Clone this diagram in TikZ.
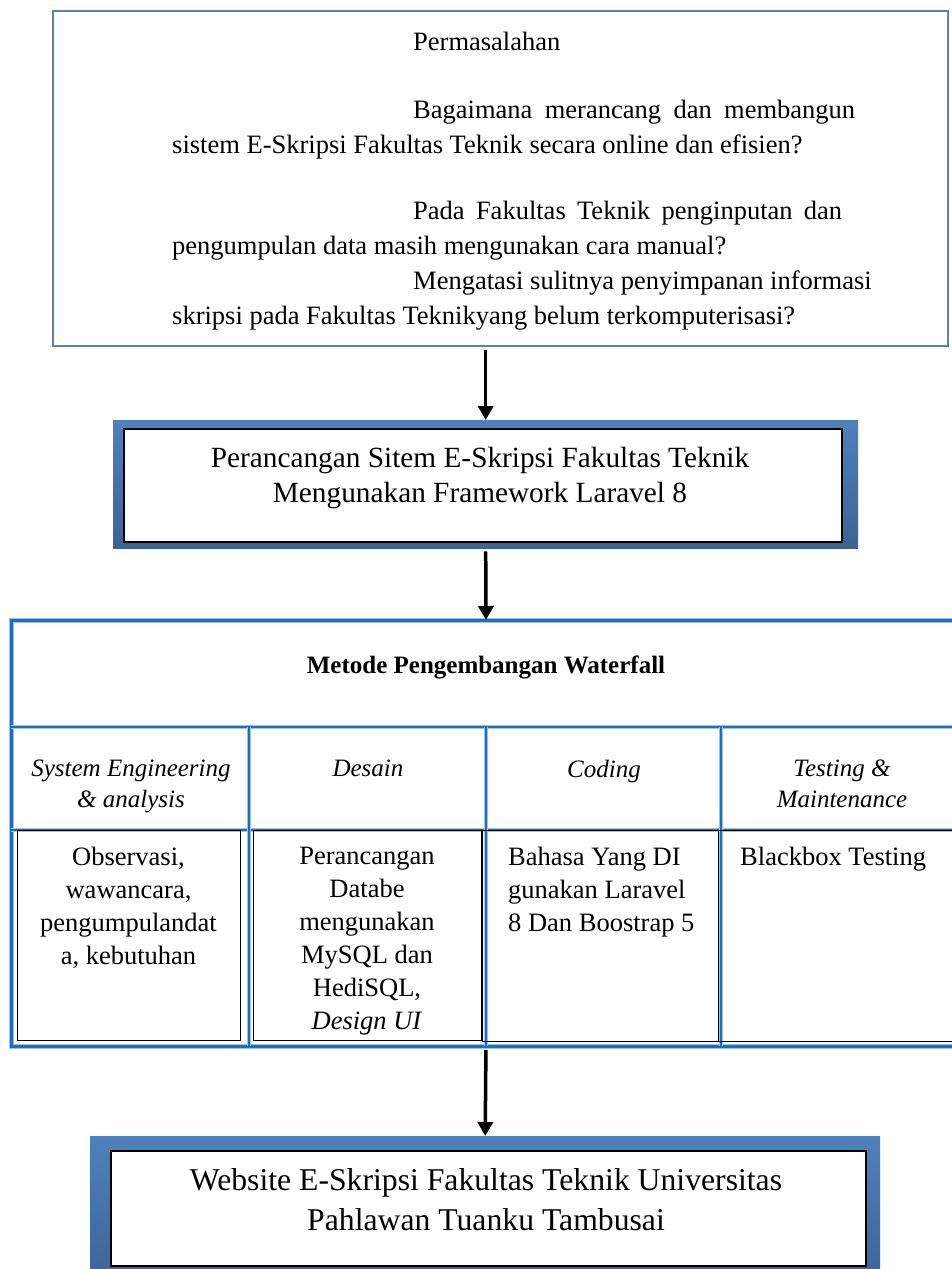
\documentclass[tikz,border=0pt]{standalone}
\usepackage{fontspec}
\setmainfont{Liberation Serif}
\usetikzlibrary{arrows.meta,calc}
\definecolor{PBlue}{HTML}{5B7FB6}
\definecolor{FBlue}{HTML}{4F81BD}
\definecolor{FBlueD}{HTML}{3C6396}
\definecolor{TBlue}{HTML}{1F6DC2}
\definecolor{LBlue}{HTML}{9DC3E6}

\begin{document}
\begin{tikzpicture}[x=1pt, y=-1pt,
    body/.style={font=\fontsize{26.5}{33}\selectfont, inner sep=0pt},
    title/.style={inner sep=0pt, anchor=north, align=center},
    colhead/.style={font=\fontsize{25}{31}\selectfont\itshape, inner sep=0pt, anchor=north, align=center},
    blueframe/.style={anchor=north west, top color=FBlue, bottom color=FBlueD, inner sep=0pt},
    inbox/.style={anchor=north west, draw=black, line width=1.6pt, fill=white, inner sep=0pt},
    cellbox/.style={anchor=north west, draw=black, line width=1.2pt, inner sep=0pt},
    tblline/.style={draw=LBlue, line width=0.9pt, double=TBlue, double distance=2.4pt},
    flow/.style={line width=3.5pt, -{Triangle[length=14pt, width=15pt]}, shorten <=3pt}]
\useasboundingbox (0,0) rectangle (951,1269);

% problem statement
\node[draw=PBlue, line width=1.5pt, anchor=north west, minimum width=895pt, minimum height=335pt, inner sep=0pt] (problem) at (52,10) {};
\node[body, font=\fontsize{26.5}{35}\selectfont, anchor=north west, align=left] (problemtext) at (172,32) {\hspace*{241pt}Permasalahan\\[33pt]
    \hspace*{241pt}\makebox[442pt][s]{Bagaimana merancang dan membangun}\\
    sistem E-Skripsi Fakultas Teknik secara online dan efisien?\\[31pt]
    \hspace*{241pt}\makebox[429pt][s]{Pada Fakultas Teknik penginputan dan}\\
    pengumpulan data masih mengunakan cara manual?\\
    \hspace*{241pt}Mengatasi sulitnya penyimpanan informasi\\
    skripsi pada Fakultas Teknikyang belum terkomputerisasi?};

% design box
\node[blueframe, minimum width=745pt, minimum height=128pt] (designframe) at (113,420) {};
\node[inbox, minimum width=718pt, minimum height=113pt] (design) at (123,428) {};
\node[title, font=\fontsize{29.3}{35}\selectfont] (designtext) at (480,447) {Perancangan Sitem E-Skripsi Fakultas Teknik\\Mengunakan Framework Laravel 8};

% waterfall table
\node[tblline, anchor=north west, minimum width=949pt, minimum height=426pt, inner sep=0pt] (method) at (11,620) {};
\draw[tblline] (11,727) -- (960,727);
\draw[tblline] (11,830) -- (960,830);
\foreach \cx in {249,486,721}
    \draw[tblline] (\cx,727) -- (\cx,1046);

\node[font=\fontsize{25}{30}\selectfont\bfseries, anchor=base, inner sep=0pt] (methodtitle) at (486,673) {Metode Pengembangan Waterfall};

\node[colhead] (head-analysis) at (131,760) {System Engineering\\\& analysis};
\node[colhead] (head-design) at (368,760) {Desain};
\node[colhead] (head-coding) at (604,760) {Coding};
\node[colhead] (head-testing) at (842,760) {Testing \&\\Maintenance};

\node[cellbox, minimum width=223pt, minimum height=210pt] (cell-analysis) at (17,830) {};
\node[cellbox, minimum width=228pt, minimum height=210pt] (cell-design) at (253,830) {};
\node[cellbox, minimum width=236pt, minimum height=211pt] (cell-coding) at (482,830) {};
\node[cellbox, minimum width=245pt, minimum height=211pt] (cell-testing) at (718,830) {};

\node[body, anchor=north, align=center] (text-analysis) at (128.5,847) {Observasi,\\wawancara,\\pengumpulandat\\a, kebutuhan};
\node[body, anchor=north, align=center] (text-design) at (367,847) {Perancangan\\Databe\\mengunakan\\MySQL dan\\HediSQL,\\\textit{Design UI}};
\node[body, anchor=north west, align=left] (text-coding) at (508,847) {Bahasa Yang DI\\gunakan Laravel\\8 Dan Boostrap 5};
\node[body, anchor=north west, align=left] (text-testing) at (740,847) {Blackbox Testing};

% result box
\node[blueframe, minimum width=790pt, minimum height=150pt] (resultframe) at (90,1136) {};
\node[inbox, line width=2pt, minimum width=755pt, minimum height=115pt] (result) at (110,1150) {};
\node[title, font=\fontsize{31.7}{40}\selectfont] (resulttext) at (486,1168) {Website E-Skripsi Fakultas Teknik Universitas\\Pahlawan Tuanku Tambusai};

\draw[flow] (problem.south -| designframe.north) -- (designframe.north);
\draw[flow] (designframe.south) -- (method.north);
\draw[flow] (method.south) -- (resultframe.north);
\end{tikzpicture}
\end{document}
